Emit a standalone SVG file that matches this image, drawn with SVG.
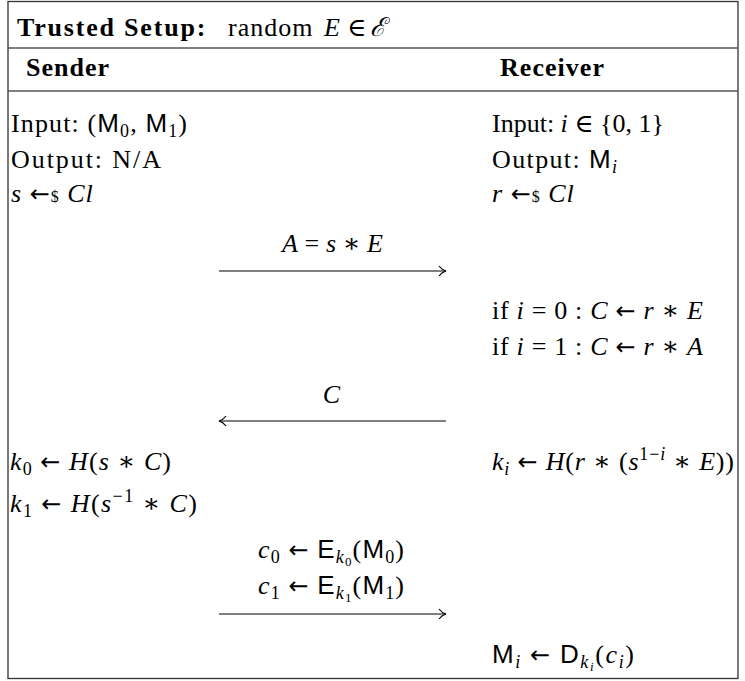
<svg xmlns="http://www.w3.org/2000/svg" width="745" height="681" viewBox="0 0 745 681">
<style>
text{font-family:"Liberation Serif","DejaVu Serif",serif;font-size:26px;fill:#000;letter-spacing:1px}
.b{font-weight:bold}
.bt{font-weight:bold;letter-spacing:1.8px}
.i{font-style:italic}
.sf{font-family:"Liberation Sans","DejaVu Sans",sans-serif}
.ar{font-family:"DejaVu Sans",sans-serif;font-size:24px}
.s{font-size:18px}
.ss{font-size:13px}
.d{font-size:16px}
.c{text-anchor:middle}
.frame{fill:#fff;stroke:#333;stroke-width:1.3}
.rule{stroke:#555;stroke-width:1.3}
.conn{stroke:#000;stroke-width:1.2;fill:none;marker-end:url(#ah)}
</style>
<defs>
<marker id="ah" markerUnits="userSpaceOnUse" markerWidth="12" markerHeight="14" refX="10" refY="7" orient="auto" viewBox="0 0 12 14">
<path d="M3 2 Q6 6 10 7 Q6 8 3 12" fill="none" stroke="#000" stroke-width="1.2"/>
</marker>
</defs>
<rect class="frame" x="8" y="1.5" width="730" height="677"/>
<line class="rule" x1="8" y1="48" x2="738" y2="48"/>
<line class="rule" x1="8" y1="91" x2="738" y2="91"/>

<g id="title"><text x="17" y="36"><tspan class="bt">Trusted Setup:</tspan><tspan x="228">random</tspan><tspan class="i" x="324">E</tspan><tspan x="347">∈</tspan><tspan class="i" x="370">ℰ</tspan></text></g>
<g id="sender-head"><text class="b" x="26" y="76" textLength="84" lengthAdjust="spacing">Sender</text></g>
<g id="receiver-head"><text class="b" x="500" y="76" textLength="105" lengthAdjust="spacing">Receiver</text></g>

<g id="s-input"><text x="11" y="132" textLength="177" lengthAdjust="spacing">Input: (<tspan class="sf">M</tspan><tspan class="s" dy="5">0</tspan><tspan dy="-5">, </tspan><tspan class="sf">M</tspan><tspan class="s" dy="5">1</tspan><tspan dy="-5">)</tspan></text></g>
<g id="s-output"><text x="11" y="168" textLength="151" lengthAdjust="spacing">Output: N/A</text></g>
<g id="s-sample"><text x="11" y="202"><tspan class="i">s</tspan> <tspan class="ar">←</tspan><tspan class="d">$</tspan> <tspan class="i">Cl</tspan></text></g>

<g id="r-input"><text x="492" y="132" textLength="173" lengthAdjust="spacing">Input: <tspan class="i">i</tspan> ∈ {0, 1}</text></g>
<g id="r-output"><text x="492" y="168" textLength="126" lengthAdjust="spacing">Output: <tspan class="sf">M</tspan><tspan class="s i" dy="5">i</tspan></text></g>
<g id="r-sample"><text x="492" y="202"><tspan class="i">r</tspan> <tspan class="ar">←</tspan><tspan class="d">$</tspan> <tspan class="i">Cl</tspan></text></g>

<g id="r-if0"><text x="492" y="319" textLength="212" lengthAdjust="spacing">if <tspan class="i">i</tspan> = 0 : <tspan class="i">C</tspan> <tspan class="ar">←</tspan> <tspan class="i">r</tspan> ∗ <tspan class="i">E</tspan></text></g>
<g id="r-if1"><text x="492" y="355" textLength="212" lengthAdjust="spacing">if <tspan class="i">i</tspan> = 1 : <tspan class="i">C</tspan> <tspan class="ar">←</tspan> <tspan class="i">r</tspan> ∗ <tspan class="i">A</tspan></text></g>

<g id="s-k0"><text x="10" y="470" textLength="162" lengthAdjust="spacing"><tspan class="i">k</tspan><tspan class="s" dy="5">0</tspan><tspan dy="-5"> </tspan><tspan class="ar">←</tspan> <tspan class="i">H</tspan>(<tspan class="i">s</tspan> ∗ <tspan class="i">C</tspan>)</text></g>
<g id="s-k1"><text x="10" y="512" textLength="188" lengthAdjust="spacing"><tspan class="i">k</tspan><tspan class="s" dy="5">1</tspan><tspan dy="-5"> </tspan><tspan class="ar">←</tspan> <tspan class="i">H</tspan>(<tspan class="i">s</tspan><tspan class="s" dy="-10">−1</tspan><tspan dy="10"> ∗ </tspan><tspan class="i">C</tspan>)</text></g>
<g id="r-ki"><text x="492" y="470" textLength="243" lengthAdjust="spacing"><tspan class="i">k</tspan><tspan class="s i" dy="5">i</tspan><tspan dy="-5"> </tspan><tspan class="ar">←</tspan> <tspan class="i">H</tspan>(<tspan class="i">r</tspan> ∗ (<tspan class="i">s</tspan><tspan class="s" dy="-10">1−</tspan><tspan class="s i">i</tspan><tspan dy="10"> ∗ </tspan><tspan class="i">E</tspan>))</text></g>

<g id="r-dec"><text x="492" y="663" textLength="143" lengthAdjust="spacing"><tspan class="sf">M</tspan><tspan class="s i" dy="5">i</tspan><tspan dy="-5"> </tspan><tspan class="ar">←</tspan> <tspan class="sf">D</tspan><tspan class="s i" dy="5">k</tspan><tspan class="ss i" dy="3">i</tspan><tspan dy="-8">(</tspan><tspan class="i">c</tspan><tspan class="s i" dy="5">i</tspan><tspan dy="-5">)</tspan></text></g>

<g id="connectors">
<g id="msg-A">
<text x="282" y="252" textLength="102" lengthAdjust="spacing"><tspan class="i">A</tspan> = <tspan class="i">s</tspan> ∗ <tspan class="i">E</tspan></text>
<line class="conn" x1="219" y1="271" x2="446" y2="271"/>
</g>
<g id="msg-C">
<text class="c i" x="332" y="403">C</text>
<line class="conn" x1="446" y1="421" x2="219" y2="421"/>
</g>
<g id="msg-c">
<text x="258" y="558" textLength="147" lengthAdjust="spacing"><tspan class="i">c</tspan><tspan class="s" dy="5">0</tspan><tspan dy="-5"> </tspan><tspan class="ar">←</tspan> <tspan class="sf">E</tspan><tspan class="s i" dy="5">k</tspan><tspan class="ss" dy="3">0</tspan><tspan dy="-8">(</tspan><tspan class="sf">M</tspan><tspan class="s" dy="5">0</tspan><tspan dy="-5">)</tspan></text>
<text x="258" y="594" textLength="147" lengthAdjust="spacing"><tspan class="i">c</tspan><tspan class="s" dy="5">1</tspan><tspan dy="-5"> </tspan><tspan class="ar">←</tspan> <tspan class="sf">E</tspan><tspan class="s i" dy="5">k</tspan><tspan class="ss" dy="3">1</tspan><tspan dy="-8">(</tspan><tspan class="sf">M</tspan><tspan class="s" dy="5">1</tspan><tspan dy="-5">)</tspan></text>
<line class="conn" x1="219" y1="614" x2="446" y2="614"/>
</g>
</g>
</svg>
